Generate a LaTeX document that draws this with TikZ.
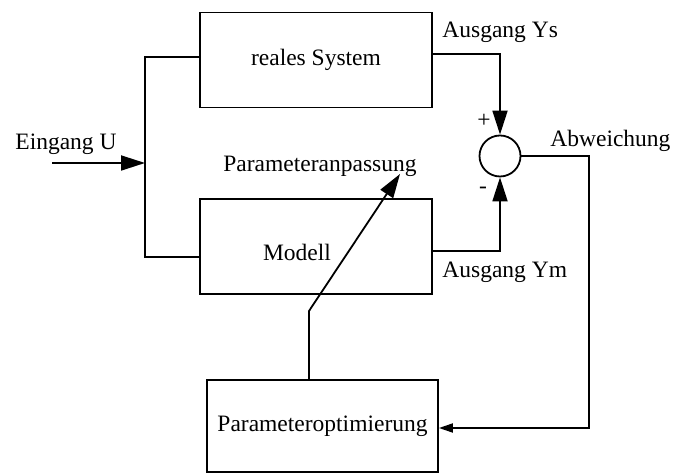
\documentclass[tikz,border=0pt]{standalone}
\usepackage{fontspec}
\setmainfont{Liberation Serif}
\usetikzlibrary{arrows.meta,positioning}

\begin{document}
\begin{tikzpicture}[
    x=0.5pt, y=-0.5pt,
    font=\fontsize{11.75}{14}\selectfont,
    block/.style={draw, rectangle, line width=0.9pt, minimum width=116pt, minimum height=47.5pt, inner sep=0pt},
    summer/.style={draw, circle, line width=0.9pt, minimum size=20.5pt, inner sep=0pt},
    wire/.style={line width=0.9pt},
    signal/.style={wire, -{Triangle[length=12pt,width=7.5pt]}},
    smallsignal/.style={wire, -{Triangle[length=7pt,width=4.5pt]}},
    txt/.style={inner sep=0pt, anchor=base west}
]
\useasboundingbox (0,0) rectangle (678,474);

% Blocks
\node[block] (system) at (316,60) {reales System};
\node[block, label={[xshift=-9.5pt, yshift=-3pt]center:Modell}] (modell) at (316,246.5) {};
\node[block, minimum width=115.5pt, minimum height=46pt] (optim) at (322.5,426) {Parameteroptimierung};
\node[summer] (sum) at (500,156) {};

% Helper points
\coordinate (einl) at (52,163);
\coordinate (branch) at (145,163);
\coordinate (turn) at (589,156);
\coordinate (knick) at (309,311);
\coordinate (tip) at (400,174);

% Labels
\node[txt] (eingang) at (15,150) {Eingang U};
\node[txt] (ys) at (442,38) {Ausgang Ys};
\node[txt] (ym) at (442,278) {Ausgang Ym};
\node[txt] (abw) at (550,147) {Abweichung};
\node[txt] (anpass) at (223,172) {Parameteranpassung};
\node (plus) at (484,121) {+};
\node (minus) at (483,190) {-};

% Signals
\draw[signal] (einl) -- (branch);
\draw[wire] ([yshift=1.5pt]system.west) -| (branch) |- ([yshift=-5.25pt]modell.west);
\draw[signal] ([yshift=3pt]system.east) -| (sum.north);
\draw[signal] ([yshift=-2.25pt]modell.east) -| (sum.south);
\draw[smallsignal] (sum.east) -- (turn) |- ([yshift=-1pt]optim.east);
\draw[signal] (optim.north -| knick) -- (knick) -- (tip);

\end{tikzpicture}
\end{document}
